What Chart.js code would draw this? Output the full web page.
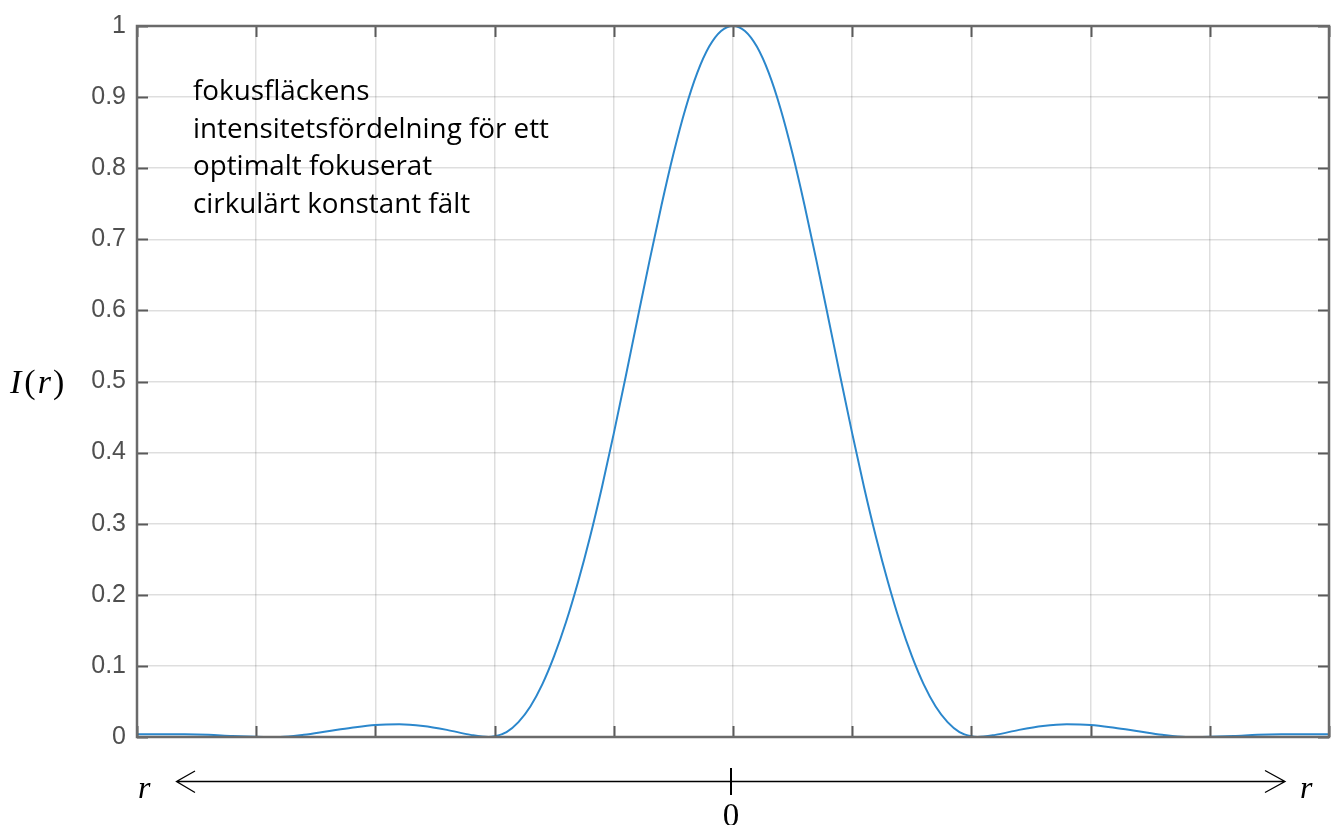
<!DOCTYPE html>
<html>
<head>
<meta charset="utf-8">
<script src="https://cdn.jsdelivr.net/npm/chart.js@4"></script>
<style>
  html, body { margin: 0; padding: 0; background: #ffffff; }
  #wrap { width: 1333px; height: 825px; position: relative; }
</style>
</head>
<body>
<div id="wrap"><canvas id="c" width="1333" height="825"></canvas></div>
<script>
// ---- data ----
const rValues = [
  -5.0, -4.8, -4.6, -4.4, -4.2, -4.0, -3.8, -3.6, -3.4, -3.2, -3.0, -2.8, -2.6, -2.4, -2.2, -2.05,
  -2.0, -1.9, -1.8, -1.7, -1.6, -1.5, -1.4, -1.3, -1.2, -1.1, -1.0, -0.9, -0.8, -0.7, -0.6, -0.5, -0.4, -0.3, -0.2, -0.1,
  0,
  0.1, 0.2, 0.3, 0.4, 0.5, 0.6, 0.7, 0.8, 0.9, 1.0, 1.1, 1.2, 1.3, 1.4, 1.5, 1.6, 1.7, 1.8, 1.9, 2.0,
  2.05, 2.2, 2.4, 2.6, 2.8, 3.0, 3.2, 3.4, 3.6, 3.8, 4.0, 4.2, 4.4, 4.6, 4.8, 5.0];
const intensityValues = [
  0.004, 0.004, 0.0038, 0.003, 0.0015, 0.0005, 0, 0.003, 0.008, 0.013, 0.017, 0.018, 0.0155, 0.010, 0.003, 0,
  0.001, 0.007, 0.021, 0.043, 0.074, 0.114, 0.162, 0.218, 0.281, 0.351, 0.427, 0.507, 0.589, 0.670, 0.748, 0.820, 0.883, 0.934, 0.971, 0.993,
  1,
  0.993, 0.971, 0.934, 0.883, 0.820, 0.748, 0.670, 0.589, 0.507, 0.427, 0.351, 0.281, 0.218, 0.162, 0.114, 0.074, 0.043, 0.021, 0.007, 0.001,
  0, 0.003, 0.010, 0.0155, 0.018, 0.017, 0.013, 0.008, 0.003, 0, 0.0005, 0.0015, 0.003, 0.0038, 0.004, 0.004];
const yTickValues = [0, 0.1, 0.2, 0.3, 0.4, 0.5, 0.6, 0.7, 0.8, 0.9, 1];
const yTickLabels = ['0', '0.1', '0.2', '0.3', '0.4', '0.5', '0.6', '0.7', '0.8', '0.9', '1'];
const annotationLines = ['fokusfläckens', 'intensitetsfördelning för ett', 'optimalt fokuserat', 'cirkulärt konstant fält'];
const yAxisLabel = ['I', '(', 'r', ')'];
const xAxisEndLabel = 'r';
const xCenterLabel = '0';

const points = rValues.map((r, i) => ({ x: r, y: intensityValues[i] }));

const decorPlugin = {
  id: 'decor',
  afterDraw(chart) {
    const ctx = chart.ctx;
    const { left, right, top, bottom } = chart.chartArea;
    const xs = chart.scales.x, ys = chart.scales.y;
    ctx.save();
    // inward tick marks (MATLAB style box)
    ctx.strokeStyle = '#5a5a5a';
    ctx.lineWidth = 2;
    const tl = 11;
    xs.ticks.forEach(t => {
      const px = Math.round(xs.getPixelForValue(t.value)) + 0.5;
      ctx.beginPath();
      ctx.moveTo(px, bottom); ctx.lineTo(px, bottom - tl);
      ctx.moveTo(px, top); ctx.lineTo(px, top + tl);
      ctx.stroke();
    });
    ys.ticks.forEach(t => {
      const py = Math.round(ys.getPixelForValue(t.value)) + 0.5;
      ctx.beginPath();
      ctx.moveTo(left, py); ctx.lineTo(left + tl, py);
      ctx.moveTo(right, py); ctx.lineTo(right - tl, py);
      ctx.stroke();
    });
    // box
    ctx.strokeStyle = '#6a6a6a';
    ctx.lineWidth = 2.5;
    ctx.strokeRect(left, top, right - left, bottom - top);

    // annotation text (scaled to the reference width)
    ctx.fillStyle = '#000000';
    ctx.font = '27px "Open Sans"';
    ctx.textAlign = 'left';
    ctx.textBaseline = 'alphabetic';
    const targetW = 356;
    const sx = targetW / ctx.measureText(annotationLines[1]).width;
    const tx = 193;
    const baselines = [100, 137.5, 175, 213];
    annotationLines.forEach((s, i) => {
      ctx.save();
      ctx.translate(tx, baselines[i]);
      ctx.scale(sx, 1);
      ctx.fillText(s, 0, 0);
      ctx.restore();
    });

    // y axis label I(r)
    const serif = '"Liberation Serif", "DejaVu Serif", serif';
    let cx = 10;
    const yb = 393;
    yAxisLabel.forEach((s, i) => {
      const italic = (s === 'I' || s === 'r');
      ctx.font = (italic ? 'italic ' : '') + '34px ' + serif;
      ctx.fillText(s, cx, yb);
      cx += ctx.measureText(s).width + (i === 0 ? 3 : 2);
    });

    // bottom double arrow
    const ay = 781.5;
    const x0 = xs.getPixelForValue(0) - 2;
    ctx.strokeStyle = '#000000';
    ctx.lineWidth = 1.3;
    ctx.beginPath();
    ctx.moveTo(176.5, ay); ctx.lineTo(1285, ay);
    ctx.moveTo(195, ay - 10.5); ctx.lineTo(176.5, ay); ctx.lineTo(195, ay + 11);
    ctx.moveTo(1265, ay - 11); ctx.lineTo(1285, ay); ctx.lineTo(1265, ay + 11);
    ctx.stroke();
    ctx.lineWidth = 2;
    ctx.beginPath();
    ctx.moveTo(x0, 768); ctx.lineTo(x0, 795);
    ctx.stroke();

    ctx.font = 'italic 32px ' + serif;
    ctx.fillText(xAxisEndLabel, 138, 798);
    ctx.fillText(xAxisEndLabel, 1300, 798);

    ctx.font = '33px ' + serif;
    ctx.textAlign = 'center';
    ctx.fillText(xCenterLabel, x0, 826);
    ctx.restore();
  }
};

new Chart(document.getElementById('c'), {
  type: 'line',
  data: {
    datasets: [{
      data: points,
      borderColor: '#2b87cc',
      borderWidth: 2,
      pointRadius: 0,
      fill: false,
      cubicInterpolationMode: 'monotone'
    }]
  },
  options: {
    responsive: false,
    animation: false,
    devicePixelRatio: 1,
    layout: { padding: { left: 0, top: 24, right: 4, bottom: 88 } },
    plugins: { legend: { display: false }, tooltip: { enabled: false } },
    scales: {
      x: {
        type: 'linear',
        min: -5, max: 5,
        ticks: { display: false, stepSize: 1 },
        grid: { color: 'rgba(0,0,0,0.13)', lineWidth: 1.5, drawTicks: false },
        border: { display: false },
        afterFit(scale) { scale.height = 0; }
      },
      y: {
        type: 'linear',
        min: 0, max: 1,
        afterBuildTicks(scale) { scale.ticks = yTickValues.map(v => ({ value: v })); },
        ticks: {
          padding: 11,
          color: '#4f4f4f',
          font: { family: '"Liberation Sans", Arial, sans-serif', size: 25 },
          callback(v) { const i = yTickValues.findIndex(t => Math.abs(t - v) < 1e-9); return i >= 0 ? yTickLabels[i] : ''; }
        },
        grid: { color: 'rgba(0,0,0,0.13)', lineWidth: 1.5, drawTicks: false },
        border: { display: false },
        afterFit(scale) { scale.width = 137; }
      }
    }
  },
  plugins: [decorPlugin]
});
</script>
</body>
</html>
